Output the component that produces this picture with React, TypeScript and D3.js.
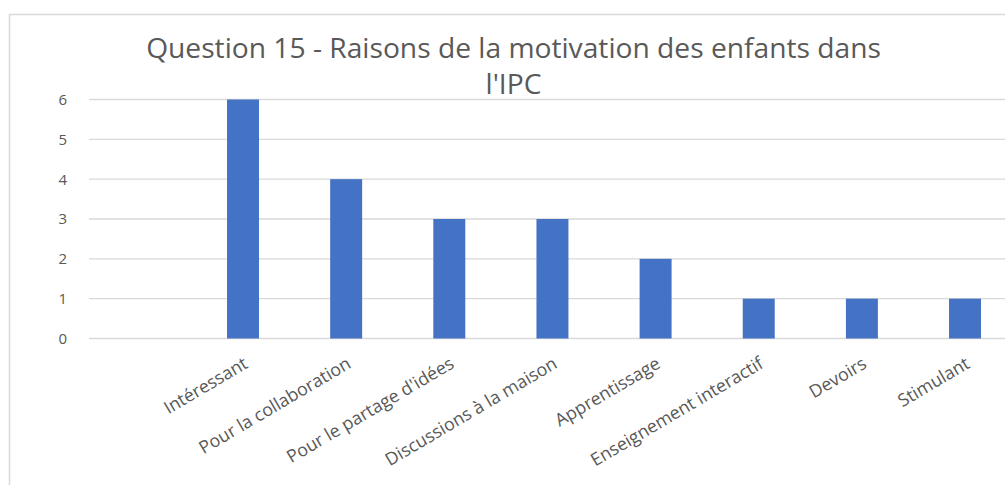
import React from "react";
import * as d3 from "d3";

const categories = ["", "Intéressant", "Pour la collaboration", "Pour le partage d'idées", "Discussions à la maison", "Apprentissage", "Enseignement interactif", "Devoirs", "Stimulant"];
const values = [0, 6, 4, 3, 3, 2, 1, 1, 1];
const yTicks = [0, 1, 2, 3, 4, 5, 6];
const titleLines = ["Question 15 - Raisons de la motivation des enfants dans", "l'IPC"];

const W = 1005;
const H = 485;
const plotLeft = 88.3;
const plotRight = 1016.6;
const gridLeft = 89;
const plotTop = 99.5;
const plotBottom = 338.5;
const textColor = "#595959";
const font = "'Open Sans', sans-serif";

export default function App() {
  const keys = categories.map((c, i) => i + "|" + c);
  const x = d3.scaleBand<string>().domain(keys).range([plotLeft, plotRight]).paddingInner(0.69).paddingOuter(0.345);
  const y = d3.scaleLinear().domain([0, 6]).range([plotBottom, plotTop]);
  return (
    <svg width={W} height={H} style={{ position: "absolute", left: 0, top: 0, background: "#fff" }}>
      <rect x={9.5} y={14.5} width={1200} height={600} fill="#fff" stroke="#d9d9d9" strokeWidth={1.5} />
      {titleLines.map((t, i) => (
        <text key={i} x={513.5} y={57.5 + i * 36} textAnchor="middle" fill={textColor} fontFamily={font} fontSize={28.2}>{t}</text>
      ))}
      {yTicks.map((t) => (
        <g key={t}>
          <line x1={gridLeft} x2={W + 20} y1={y(t)} y2={y(t)} stroke="#d9d9d9" strokeWidth={1.3} />
          <text x={67} y={y(t)} dy="0.36em" textAnchor="end" fill={textColor} fontFamily={font} fontSize={15}>{t}</text>
        </g>
      ))}
      {keys.map((k, i) => values[i] > 0 ? (
        <rect key={k} x={x(k)} y={y(values[i])} width={x.bandwidth()} height={y(0) - y(values[i])} fill="#4472c4" />
      ) : null)}
      {keys.map((k, i) => {
        const cx = (x(k) as number) + x.bandwidth() / 2;
        return (
          <text key={"l" + k} transform={`translate(${cx + 6},${367}) rotate(-30.5)`} textAnchor="end" fill={textColor} fontFamily={font} fontSize={17.8}>{categories[i]}</text>
        );
      })}
    </svg>
  );
}
